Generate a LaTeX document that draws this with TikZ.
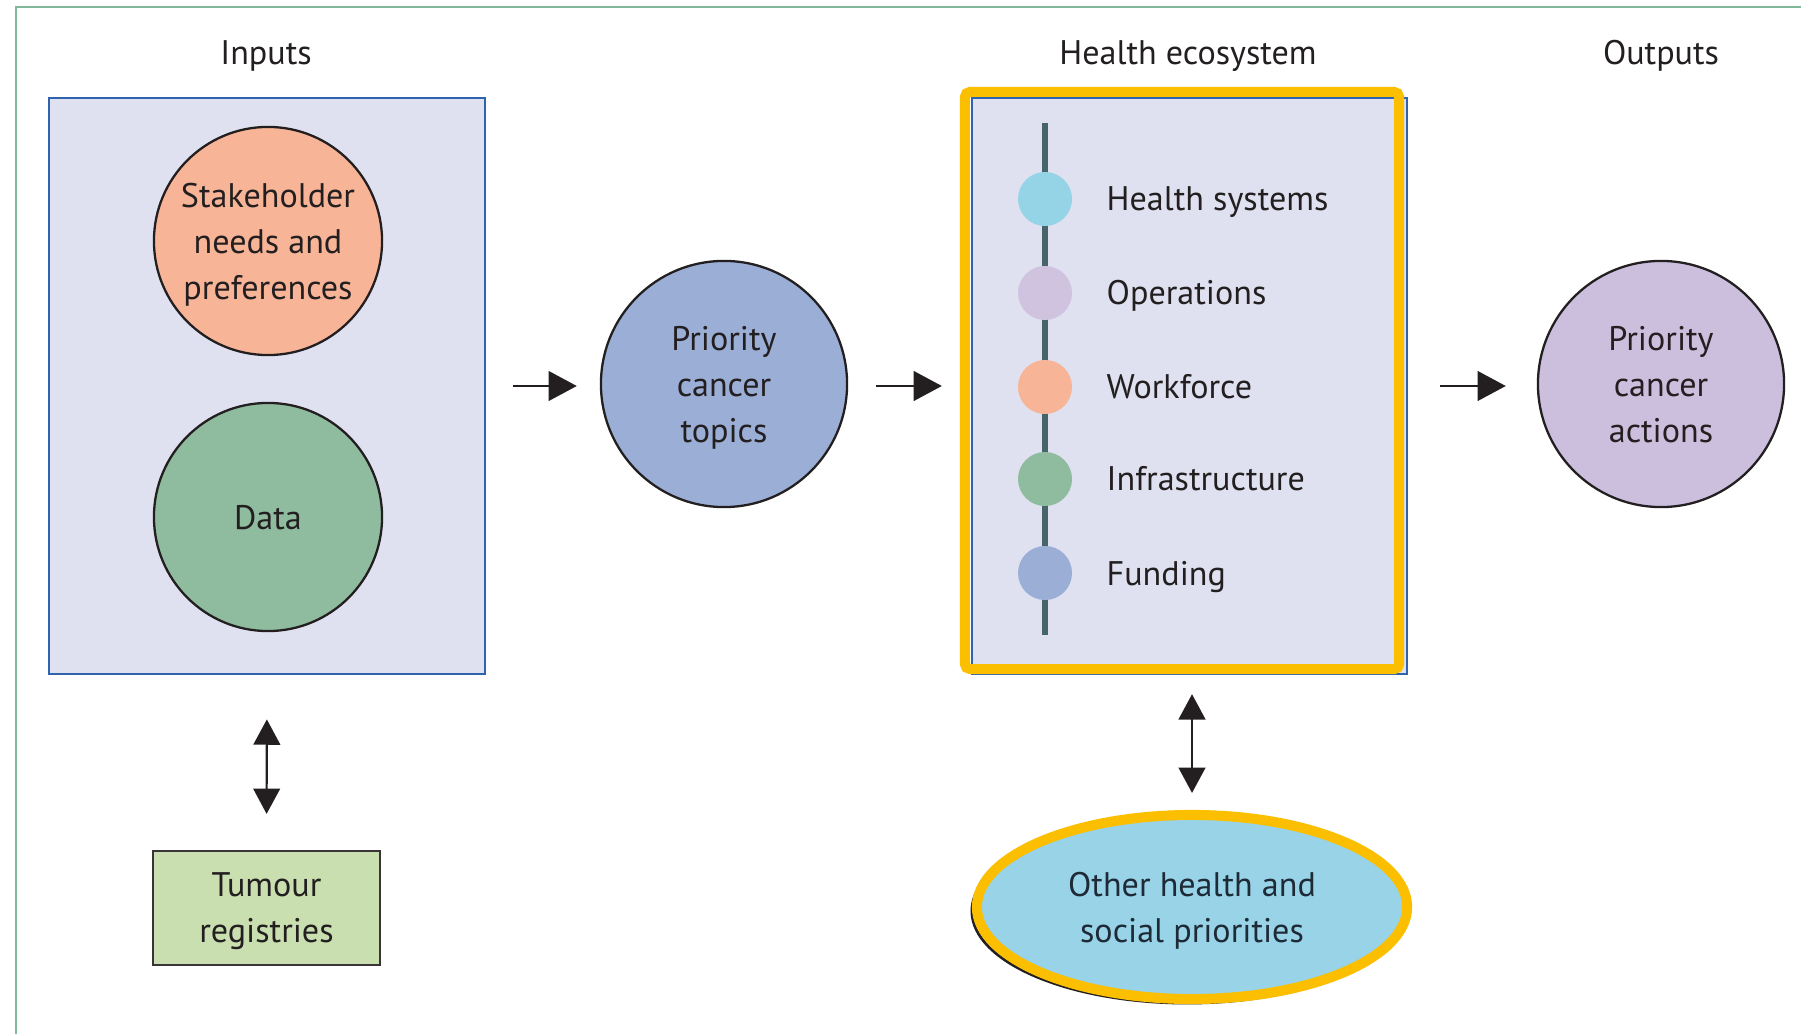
\documentclass[tikz,border=0pt]{standalone}
\usepackage{fontspec}
\setmainfont{PT Sans}
\usetikzlibrary{arrows.meta,shapes.geometric}

\definecolor{ink}{HTML}{231F20}
\definecolor{framegreen}{HTML}{7FB89A}
\definecolor{lav}{HTML}{DFE1F0}
\definecolor{boxblue}{HTML}{2F63AD}
\definecolor{salmon}{HTML}{F7B497}
\definecolor{sage}{HTML}{8FBB9F}
\definecolor{periwinkle}{HTML}{9AAED6}
\definecolor{lilac}{HTML}{CBBFDD}
\definecolor{lilaclight}{HTML}{CFC3E0}
\definecolor{mint}{HTML}{C9DFB0}
\definecolor{gold}{HTML}{FCBF00}
\definecolor{sky}{HTML}{98D3E8}
\definecolor{cyan}{HTML}{95D4E6}
\definecolor{spinecol}{HTML}{46656A}
\definecolor{navyink}{HTML}{1E2A36}

\tikzset{
  frameline/.style={draw=framegreen, line width=0.6pt},
  panel/.style={draw=boxblue, fill=lav, line width=0.7pt, inner sep=0pt},
  bubble/.style={circle, draw=ink, line width=0.65pt, inner sep=0pt, align=center, text=ink, text depth=0pt},
  bigbubble/.style={bubble, minimum size=2.46cm},
  inbubble/.style={bubble, minimum size=2.28cm},
  header/.style={anchor=base, text=ink},
  dot/.style={circle, inner sep=0pt, minimum size=0.54cm},
  itemlabel/.style={anchor=base west, text=ink, inner sep=0pt},
  arr/.style={-{Triangle[length=8pt,width=8.4pt]}, line width=0.7pt, draw=ink},
  darr/.style={{Triangle[length=7.2pt,width=7.6pt]}-{Triangle[length=7.2pt,width=7.6pt]}, line width=0.6pt, draw=ink},
}

\begin{document}
\begin{tikzpicture}[x=0.01cm, y=-0.01cm, font=\fontsize{9.7}{13.1}\selectfont]
\useasboundingbox (0,0) rectangle (1801,1034);
\fill[white] (0,0) rectangle (1801,1034);

% outer frame (top and left rules)
\draw[frameline] (1801,7) -- (16,7) -- (16,1034);

% column headers
\node[header] (hin)  at (266,65)  {Inputs};
\node[header] (heco) at (1188,65) {Health ecosystem};
\node[header] (hout) at (1661,65) {Outputs};

% inputs panel
\node[panel, minimum width=4.36cm, minimum height=5.76cm] (inbox) at (267,386) {};
\node[inbubble, fill=salmon] (stake) at (268,241) {Stakeholder\\needs and\\preferences};
\node[inbubble, fill=sage] (data) at (268,517) {Data};

% tumour registries
\node[draw=ink!90, fill=mint, line width=0.6pt, minimum width=2.27cm, minimum height=1.14cm,
      align=center, text=ink, text depth=0pt] (tumour) at (266.5,908) {Tumour\\registries};

% priority topics and actions
\node[bigbubble, fill=periwinkle] (topics) at (724,384) {Priority\\cancer\\topics};
\node[bigbubble, fill=lilac] (actions) at (1661,384) {Priority\\cancer\\actions};

% health ecosystem panel with highlight frame
\node[panel, minimum width=4.35cm, minimum height=5.76cm] (ecobox) at (1189.5,386) {};
\node[draw=gold, line width=2.85pt, rounded corners=1.5pt, minimum width=4.34cm,
      minimum height=5.77cm, inner sep=0pt] (eco) at (1182,380.5) {};

% ecosystem spine with its elements
\coordinate (spT) at (1045,123);
\coordinate (spB) at (1045,635);
\draw[spinecol, line width=1.8pt] (spT) -- (spB);
\node[dot, fill=cyan]       (d1) at (1045,199) {};
\node[dot, fill=lilaclight] (d2) at (1045,293) {};
\node[dot, fill=salmon]     (d3) at (1045,387) {};
\node[dot, fill=sage]       (d4) at (1045,479) {};
\node[dot, fill=periwinkle] (d5) at (1045,573) {};
\node[itemlabel] (l1) at (1106,211) {Health systems};
\node[itemlabel] (l2) at (1106,305) {Operations};
\node[itemlabel] (l3) at (1106,399) {Workforce};
\node[itemlabel] (l4) at (1106,491) {Infrastructure};
\node[itemlabel] (l5) at (1106,585) {Funding};

% other priorities
\node[ellipse, draw=ink, line width=0.8pt, minimum width=4.30cm, minimum height=1.84cm,
      inner sep=0pt] (othershadow) at (1187,911) {};
\node[ellipse, draw=gold, fill=sky, line width=2.85pt, minimum width=4.30cm,
      minimum height=1.84cm, inner sep=0pt, align=center, text=navyink, text depth=0pt] (other) at (1192,907)
      {Other health and\\social priorities};

% connectors
\draw[arr, shorten <=0.27cm, shorten >=0.23cm] (inbox.east) -- (inbox.east -| topics.west);
\draw[arr, shorten <=0.28cm, shorten >=0.18cm] (inbox.east -| topics.east) -- (inbox.east -| eco.west);
\draw[arr, shorten <=0.36cm, shorten >=0.31cm] (inbox.east -| eco.east) -- (inbox.east -| actions.west);
\draw[darr, shorten <=0.44cm, shorten >=0.36cm] (inbox.south) -- (tumour.north);
\draw[darr, shorten <=0.20cm, shorten >=0.17cm] (eco.south -| other.north) -- (other.north);
\end{tikzpicture}
\end{document}
